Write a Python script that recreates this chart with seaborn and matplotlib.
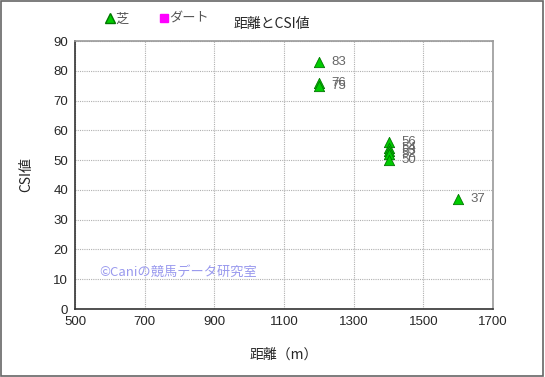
import numpy as np
import pandas as pd
import seaborn as sns
import matplotlib.pyplot as plt
from matplotlib.lines import Line2D

# 芝 data (distance, CSI)
turf_dist = [1200, 1200, 1200, 1400, 1400, 1400, 1400, 1400, 1600]
turf_csi = [83, 76, 75, 56, 54, 53, 52, 50, 37]
# ダート data: none in this chart
dirt_dist = []
dirt_csi = []

x_ticks = [500, 700, 900, 1100, 1300, 1500, 1700]
y_ticks = [0, 10, 20, 30, 40, 50, 60, 70, 80, 90]

sns.set_style("white")
plt.rcParams['font.family'] = ['Noto Sans CJK JP', 'DejaVu Sans']

df = pd.DataFrame({'dist': turf_dist, 'csi': turf_csi})

fig = plt.figure(figsize=(5.45, 3.77), dpi=100)
ax = fig.add_axes([75 / 545, 1 - 309 / 377, 418 / 545, 268 / 377])

sns.scatterplot(data=df, x='dist', y='csi', marker='^', s=55,
                color='#00cc00', edgecolor='#007700', linewidth=0.6,
                ax=ax, zorder=3, legend=False)
if dirt_dist:
    ax.scatter(dirt_dist, dirt_csi, marker='s', color='#ff00ff')

for xv, yv in zip(turf_dist, turf_csi):
    ax.annotate(str(yv), (xv, yv), xytext=(9, 0), textcoords='offset points',
                va='center', ha='left', fontsize=9.5, color='#666666',
                family=['Liberation Sans', 'DejaVu Sans'])

ax.set_xlim(500, 1700)
ax.set_ylim(0, 90)
ax.set_xticks(x_ticks)
ax.set_yticks(y_ticks)
ax.tick_params(axis='both', labelsize=9.5, length=0, pad=5)
for lab in ax.get_xticklabels() + ax.get_yticklabels():
    lab.set_family(['Liberation Sans', 'DejaVu Sans'])
ax.grid(True, color='#b0b0b0', linestyle=(0, (1, 1)), linewidth=0.8)
for side in ['top', 'right']:
    ax.spines[side].set_color('#999999')
    ax.spines[side].set_linewidth(1.2)
for side in ['left', 'bottom']:
    ax.spines[side].set_color('#333333')
    ax.spines[side].set_linewidth(1.2)

ax.set_xlabel('距離（m）', fontsize=10, labelpad=14)
ax.set_ylabel('CSI値', fontsize=10, labelpad=14)

ax.text(570, 12.3, '©Caniの競馬データ研究室', fontsize=9.5, color='#9999ee',
        va='center', ha='left')

fig.text(272 / 545, 1 - 24 / 377, '距離とCSI値', fontsize=10, ha='center', va='center')

handles = [Line2D([], [], marker='^', color='none', markerfacecolor='#00cc00',
                  markeredgecolor='#007700', markersize=7, label='芝'),
           Line2D([], [], marker='s', color='none', markerfacecolor='#ff00ff',
                  markeredgecolor='#ff00ff', markersize=6, label='ダート')]
leg = fig.legend(handles=handles, loc='center left', ncol=2, frameon=False,
                 bbox_to_anchor=(94 / 545, 1 - 19 / 377), fontsize=9.5,
                 handlelength=0.6, handletextpad=0.1, columnspacing=2.4)
for t in leg.get_texts():
    t.set_color('#555555')

fig.patches.append(plt.Rectangle((0.002, 0.003), 0.995, 0.994, fill=False,
                                 edgecolor='#666666', linewidth=1.2,
                                 transform=fig.transFigure, figure=fig))

fig.savefig('out.png', dpi=100)
